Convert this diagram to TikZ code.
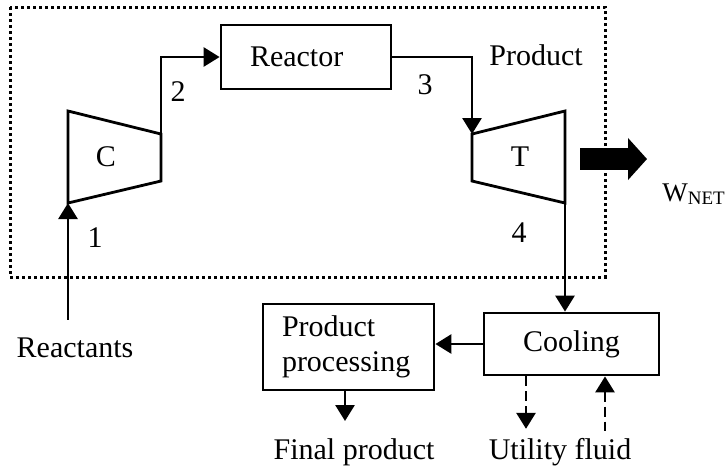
\documentclass[tikz,border=0pt]{standalone}
\usepackage{fontspec}
\setmainfont{Liberation Serif}
\usetikzlibrary{arrows.meta}

\begin{document}
\begin{tikzpicture}[line cap=butt,line join=miter,>={Triangle[length=8pt,width=9.5pt]},x=0.5pt,y=-0.5pt,
	font=\fontsize{15}{17.5}\selectfont,
	flow/.style={line width=1.4pt},
	util/.style={line width=1.4pt,dash pattern=on 5pt off 2.5pt},
	box/.style={draw,line width=1.4pt,inner sep=0pt},
	lbl/.style={inner sep=0pt}]
	\useasboundingbox (0,0) rectangle (726,468);
	%%%% FRONTERA
	\draw[line width=1.5pt,dash pattern=on 1.5pt off 1.5pt] (10,7) rectangle (605,277);
	
	%%%% COMPRESOR
	\coordinate (cin) at (68,203);
	\coordinate (cout) at (161,134);
	\draw[flow] (cin) -- (68,111) -- (cout) -- (161,181) -- cycle;
	\node[lbl] (C) at (106,157) {C};
	
	%%%% REACTOR
	\node[box,minimum height=32pt,text width=56pt,inner xsep=14.5pt,align=left] (reactor) at (306,57) {Reactor};
	
	%%%% TURBINA
	\coordinate (tin) at (472,134);
	\coordinate (tout) at (565,203);
	\draw[flow] (tin) -- (565,111) -- (tout) -- (472,181) -- cycle;
	\node[lbl] (T) at (520,157) {T};
	
	%%%% ENFRIAMIENTO Y PROCESO
	\node[box,minimum width=87.5pt,minimum height=31pt] (cooling) at (571.5,344) {Cooling};
	\node[box,minimum height=43pt,text width=66.5pt,inner xsep=9.5pt,align=left] (proc) at (348.5,347) {Product\\processing};
	
	%%%% TEXTOS
	\node[lbl] (reactants) at (75,348) {Reactants};
	\node[lbl] (final) at (354,452) {Final product};
	\node[lbl] (utility) at (560,452) {Utility fluid};
	\node[lbl] (product) at (536,55) {Product};
	\node[lbl] (s1) at (95,238) {1};
	\node[lbl] (s2) at (178,92) {2};
	\node[lbl] (s3) at (425,85) {3};
	\node[lbl] (s4) at (519,233) {4};
	\node[lbl,anchor=base west,font=\fontsize{13.5}{15}\selectfont] (wnet) at (662,201) {W\raisebox{-1.5pt}{\fontsize{9.5}{11}\selectfont NET}};
	
	%%%% CORRIENTES
	\draw[flow,->,shorten <=9pt] (cin |- reactants.north) -- (cin);
	\draw[flow,->] (cout) |- (reactor.west);
	\draw[flow,->] (reactor.east) -| (tin);
	\draw[flow,->] (tout) -- (tout |- cooling.north);
	\draw[flow,->] (cooling.west) -- (cooling.west -| proc.east);
	\draw[flow,->,shorten >=8.5pt] ([xshift=-1.75pt]proc.south) -- ([xshift=-1.75pt]proc.south |- final.north);
	\draw[util,->,shorten >=4.5pt] ([xshift=-22.75pt]cooling.south) -- ([xshift=-22.75pt]cooling.south |- utility.north);
	\draw[util,<-,shorten >=3.5pt] ([xshift=16.75pt]cooling.south) -- ([xshift=16.75pt]cooling.south |- utility.north);
	
	%%%% TRABAJO
	\coordinate (wa) at (580,159);
	\coordinate (wb) at (647,159);
	\draw[line width=11pt,-{Triangle[length=9.5pt,width=20.5pt]}] (wa) -- (wb);
\end{tikzpicture}
\end{document}
